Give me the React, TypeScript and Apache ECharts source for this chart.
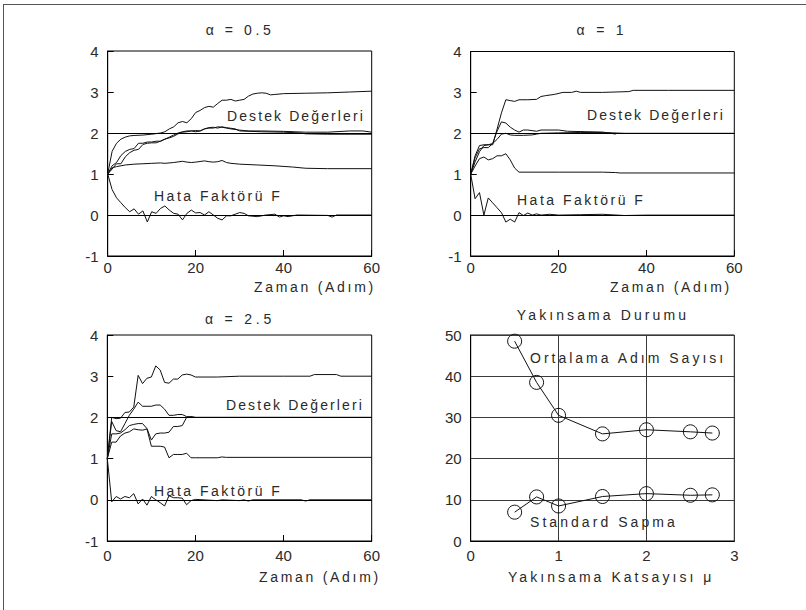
import React, { useEffect, useRef } from "react";
import * as echarts from "echarts";

// ---------- tick values ----------
const STEP_TICKS = [0, 20, 40, 60];
const SUPPORT_TICKS = [-1, 0, 1, 2, 3, 4];
const MU_TICKS = [0, 1, 2, 3];
const COUNT_TICKS = [0, 10, 20, 30, 40, 50];

// ---------- panel titles / labels ----------
const PANEL_TITLES = ["α = 0.5", "α = 1", "α = 2.5", "Yakınsama Durumu"];
const SUPPORT_LABEL = "Destek Değerleri";
const ERROR_LABEL = "Hata Faktörü F";
const TIME_LABEL = "Zaman (Adım)";
const MU_LABEL = "Yakınsama Katsayısı μ";
const AVG_LABEL = "Ortalama Adım Sayısı";
const STD_LABEL = "Standard Sapma";

// ---------- α = 0.5 ----------
const a05Support1 = [[0,1],[1,1.55],[2,1.75],[3,1.85],[4,1.9],[5,1.93],[6,1.94],[8,1.95],[10,1.97],[12,2.0],[13,2.03],[14,2.1],[15,2.15],[16,2.25],[17,2.28],[18,2.25],[19,2.35],[20,2.5],[21,2.55],[22,2.62],[23,2.65],[24,2.63],[25,2.72],[26,2.8],[27,2.8],[28,2.82],[29,2.78],[30,2.8],[31,2.82],[32,2.9],[33,2.95],[34,2.97],[35,2.98],[36,2.97],[37,2.93],[38,2.94],[40,2.96],[45,2.97],[50,2.98],[55,3.0],[60,3.02]];
const a05Support2 = [[0,1],[1,1.2],[2,1.28],[3,1.45],[4,1.55],[5,1.6],[6,1.62],[7,1.75],[8,1.75],[9,1.78],[10,1.78],[11,1.8],[12,1.8],[13,1.85],[14,1.9],[15,1.95],[16,2.0],[17,2.03],[18,2.05],[19,2.05],[20,2.06],[21,2.05],[22,2.1],[23,2.12],[24,2.12],[25,2.15],[26,2.14],[27,2.12],[28,2.1],[30,2.07],[32,2.05],[35,2.05],[40,2.04],[45,2.02],[50,2.02],[55,2.05],[58,2.05],[60,2.02]];
const a05Support3 = [[0,1],[1,1.12],[2,1.25],[3,1.25],[4,1.42],[5,1.52],[6,1.58],[7,1.6],[8,1.72],[9,1.75],[10,1.76],[11,1.76],[12,1.8],[13,1.85],[14,1.88],[15,1.92],[16,1.98],[17,2.02],[18,2.03],[19,2.05],[20,2.03],[21,2.05],[22,2.1],[23,2.13],[24,2.14],[25,2.12],[26,2.15],[27,2.13],[29,2.1],[30,2.05],[35,2.03],[40,2.02],[44,2.0],[45,1.98],[50,1.97],[60,1.97]];
const a05Support4 = [[0,1],[1,1.15],[2,1.18],[3,1.2],[4,1.22],[6,1.24],[8,1.25],[10,1.26],[12,1.27],[13,1.26],[15,1.28],[17,1.31],[18,1.29],[19,1.28],[20,1.29],[22,1.32],[23,1.3],[24,1.29],[25,1.3],[26,1.33],[27,1.28],[28,1.26],[30,1.24],[34,1.22],[38,1.2],[42,1.17],[45,1.14],[50,1.13],[60,1.13]];
const a05Error = [[0,1],[1,0.62],[2,0.42],[3,0.3],[4,0.18],[5,0.08],[6,0.15],[7,0.02],[8,0.1],[9,-0.17],[10,0.08],[11,0.04],[12,0.16],[13,0.22],[14,0.12],[15,0.04],[16,0.02],[17,-0.12],[18,0.04],[19,0.12],[20,0.05],[21,0.06],[22,0.0],[23,0.08],[24,0.0],[25,-0.08],[26,-0.12],[27,-0.02],[28,-0.02],[29,0.02],[30,0.06],[31,0.04],[32,-0.02],[34,-0.04],[36,0.0],[38,0.02],[39,-0.05],[40,-0.02],[41,-0.04],[43,0.0],[50,-0.01],[51,-0.05],[52,0.0],[60,0.0]];

// ---------- α = 1 ----------
const a1Support1 = [[0,1],[1,1.3],[2,1.55],[3,1.7],[4,1.72],[5,1.72],[6,2.1],[7,2.5],[8,2.82],[9,2.8],[10,2.78],[11,2.82],[13,2.82],[15,2.83],[16,2.9],[17,2.92],[19,2.95],[21,3.0],[23,3.0],[24,3.03],[25,3.0],[30,3.0],[36,3.02],[37,3.05],[45,3.05],[60,3.05]];
const a1Support2 = [[0,1],[1,1.4],[2,1.62],[3,1.65],[4,1.65],[5,1.75],[6,2.05],[7,2.28],[8,2.25],[9,2.15],[10,2.08],[11,2.03],[12,2.08],[13,2.08],[15,2.05],[16,2.08],[20,2.08],[22,2.05],[26,2.04],[30,2.03],[32,2.0],[33,1.98]];
const a1Support3 = [[0,1],[1,1.45],[2,1.7],[3,1.72],[4,1.72],[5,1.75],[6,1.85],[7,1.98],[8,2.0],[9,1.96],[10,1.95],[12,1.95],[14,1.96],[15,1.98],[16,2.0],[20,2.01],[25,2.02],[30,2.02],[35,2.0],[60,2.0]];
const a1Support4 = [[0,1],[1,1.2],[2,1.38],[3,1.42],[4,1.35],[5,1.38],[6,1.45],[7,1.45],[8,1.5],[9,1.35],[10,1.15],[11,1.05],[20,1.05],[30,1.05],[33,1.04],[34,1.03],[60,1.03]];
const a1Error = [[0,1],[1,0.4],[2,0.55],[3,0.0],[4,0.42],[5,0.3],[6,0.18],[7,0.06],[8,-0.17],[9,-0.1],[10,-0.17],[11,0.06],[12,-0.01],[13,0.05],[14,0.0],[15,0.03],[16,0.0],[18,0.02],[20,0.0],[25,0.01],[30,0.02],[35,-0.01],[40,0.0],[60,0.0]];

// ---------- α = 2.5 ----------
const a25Support1 = [[0,1],[1,2.0],[2,1.97],[3,1.98],[4,2.12],[5,2.13],[6,2.25],[7,3.02],[8,2.82],[9,2.95],[10,2.98],[11,3.25],[12,3.15],[13,2.85],[14,2.83],[15,2.93],[16,2.93],[17,3.03],[18,3.05],[19,3.03],[20,2.98],[25,2.98],[30,3.0],[40,3.0],[46,3.0],[47,3.04],[52,3.04],[53,3.0],[60,3.0]];
const a25Support2 = [[0,1],[1,1.9],[2,1.68],[3,1.65],[4,1.85],[5,2.05],[6,2.2],[7,2.37],[8,2.27],[9,2.27],[10,2.27],[11,2.3],[12,2.3],[13,2.2],[14,2.05],[15,2.05],[16,2.07],[17,2.07],[18,2.02],[20,2.0],[60,2.0]];
const a25Support3 = [[0,1],[1,1.6],[2,1.6],[3,1.62],[4,1.7],[5,1.8],[6,1.83],[7,1.85],[8,1.85],[9,1.73],[10,1.45],[11,1.6],[12,1.62],[13,1.62],[14,1.64],[15,1.78],[16,1.78],[17,1.8],[18,2.0],[19,2.02],[20,2.0],[60,2.0]];
const a25Support4 = [[0,1],[1,1.4],[2,1.4],[3,1.55],[4,1.62],[5,1.65],[6,1.72],[7,1.7],[8,1.69],[9,1.72],[10,1.3],[11,1.3],[12,1.3],[13,1.28],[14,1.02],[15,1.1],[16,1.1],[17,1.1],[18,1.13],[19,1.02],[20,1.02],[25,1.02],[26,1.04],[27,1.03],[60,1.03]];
const a25Error = [[0,1],[1,-0.05],[2,0.08],[3,0.02],[4,0.08],[5,0.05],[6,0.15],[7,-0.1],[8,0.02],[9,-0.13],[10,0.08],[11,0.0],[12,-0.07],[13,-0.15],[14,0.1],[15,0.05],[16,0.05],[17,0.04],[18,-0.12],[19,-0.02],[20,0.01],[25,-0.02],[26,0.0],[30,-0.02],[31,0.0],[32,-0.03],[33,0.0],[44,0.0],[45,-0.03],[46,0.0],[60,0.0]];

// ---------- convergence panel ----------
const MU_VALUES = [0.5, 0.75, 1.0, 1.5, 2.0, 2.5, 2.75];
const AVG_STEPS = [48.5, 38.5, 30.5, 26, 27, 26.5, 26.2];
const STD_DEV = [7, 10.7, 8.5, 10.8, 11.5, 11.1, 11.2];

const PANEL_SUPPORTS = [
  [a05Support1, a05Support2, a05Support3, a05Support4],
  [a1Support1, a1Support2, a1Support3, a1Support4],
  [a25Support1, a25Support2, a25Support3, a25Support4],
];
const PANEL_ERRORS = [a05Error, a1Error, a25Error];

const FONT = '"Liberation Sans", Arial, sans-serif';
const TEXT_COLOR = "#2a2a2a";
const LINE_COLOR = "#111";

const SPACING: Record<string, number> = {
  "α = 0.5": 3.6,
  "α = 1": 3.8,
  "α = 2.5": 3.8,
  "Yakınsama Durumu": 3.1,
  "Destek Değerleri": 2.1,
  "Hata Faktörü F": 2.5,
  "Zaman (Adım)": 2.7,
  "Yakınsama Katsayısı μ": 3.05,
  "Ortalama Adım Sayısı": 3.0,
  "Standard Sapma": 3.05,
};

const GRIDS = [
  { left: 107.7, top: 51, width: 264, height: 205 },
  { left: 470.7, top: 51.5, width: 263.6, height: 204.5 },
  { left: 107.3, top: 335, width: 264.4, height: 206 },
  { left: 470.7, top: 335, width: 263.6, height: 206 },
];

function txt(text: string, x: number, y: number, align: string = "left") {
  return {
    type: "text",
    x,
    y,
    silent: true,
    style: {
      text,
      font: `14px ${FONT}`,
      fill: TEXT_COLOR,
      align,
      verticalAlign: "middle",
    },
  };
}

function axisCommon(margin: number) {
  return {
    axisLine: { show: true, onZero: false, lineStyle: { color: "#000", width: 1 } },
    axisLabel: { color: TEXT_COLOR, fontSize: 15, fontFamily: FONT, margin },
  };
}

export default function App() {
  const ref = useRef<HTMLDivElement>(null);

  useEffect(() => {
    if (!ref.current) return;
    const el = ref.current;
    const chart = echarts.init(el, undefined, { renderer: "svg" });

    const xAxes: any[] = [];
    const yAxes: any[] = [];
    for (let i = 0; i < 3; i++) {
      xAxes.push({
        type: "value",
        gridIndex: i,
        min: STEP_TICKS[0],
        max: STEP_TICKS[STEP_TICKS.length - 1],
        interval: STEP_TICKS[1] - STEP_TICKS[0],
        ...axisCommon(i < 2 ? 4 : 7),
        axisTick: { show: true, inside: true, length: 6, lineStyle: { color: "#000" } },
        splitLine: { show: false },
      });
      yAxes.push({
        type: "value",
        gridIndex: i,
        min: SUPPORT_TICKS[0],
        max: SUPPORT_TICKS[SUPPORT_TICKS.length - 1],
        interval: SUPPORT_TICKS[1] - SUPPORT_TICKS[0],
        ...axisCommon(9),
        axisTick: { show: true, inside: true, length: 6, lineStyle: { color: "#000" } },
        splitLine: { show: false },
      });
    }
    xAxes.push({
      type: "value",
      gridIndex: 3,
      min: MU_TICKS[0],
      max: MU_TICKS[MU_TICKS.length - 1],
      interval: MU_TICKS[1] - MU_TICKS[0],
      ...axisCommon(7),
      axisTick: { show: false },
      splitLine: { show: true, lineStyle: { color: "#3a3a3a", width: 1 } },
    });
    yAxes.push({
      type: "value",
      gridIndex: 3,
      min: COUNT_TICKS[0],
      max: COUNT_TICKS[COUNT_TICKS.length - 1],
      interval: COUNT_TICKS[1] - COUNT_TICKS[0],
      ...axisCommon(9),
      axisTick: { show: false },
      splitLine: { show: true, lineStyle: { color: "#3a3a3a", width: 1 } },
    });

    const series: any[] = [];
    PANEL_SUPPORTS.forEach((curves, gi) => {
      curves.forEach((data) => {
        series.push({
          type: "line",
          xAxisIndex: gi,
          yAxisIndex: gi,
          data,
          symbol: "none",
          silent: true,
          lineStyle: { color: LINE_COLOR, width: 1 },
        });
      });
      series.push({
        type: "line",
        xAxisIndex: gi,
        yAxisIndex: gi,
        data: PANEL_ERRORS[gi],
        symbol: "none",
        silent: true,
        lineStyle: { color: LINE_COLOR, width: 1 },
        markLine: {
          silent: true,
          symbol: ["none", "none"],
          label: { show: false },
          lineStyle: { color: "#000", width: 1, type: "solid" },
          data: [{ yAxis: 2 }, { yAxis: 0 }],
        },
      });
    });
    [AVG_STEPS, STD_DEV].forEach((vals) => {
      series.push({
        type: "line",
        xAxisIndex: 3,
        yAxisIndex: 3,
        data: MU_VALUES.map((m, i) => [m, vals[i]]),
        symbol: "circle",
        symbolSize: 14,
        showSymbol: true,
        silent: true,
        lineStyle: { color: LINE_COLOR, width: 1 },
        itemStyle: { color: "rgba(0,0,0,0)", borderColor: LINE_COLOR, borderWidth: 1 },
      });
    });

    const graphics: any[] = [
      { type: "line", silent: true, shape: { x1: 3, y1: 4.5, x2: 806, y2: 4.5 }, style: { stroke: "#555", lineWidth: 1 } },
      { type: "line", silent: true, shape: { x1: 3.5, y1: 4.5, x2: 3.5, y2: 610 }, style: { stroke: "#555", lineWidth: 1 } },
      txt(PANEL_TITLES[0], 240, 30, "center"),
      txt(PANEL_TITLES[1], 602, 30, "center"),
      txt(PANEL_TITLES[2], 240, 319, "center"),
      txt(PANEL_TITLES[3], 603, 315, "center"),
      txt(SUPPORT_LABEL, 227, 116),
      txt(ERROR_LABEL, 154, 196),
      txt(SUPPORT_LABEL, 587, 115),
      txt(ERROR_LABEL, 517, 200),
      txt(SUPPORT_LABEL, 226, 405),
      txt(ERROR_LABEL, 154, 491),
      txt(AVG_LABEL, 530, 358),
      txt(STD_LABEL, 530, 522),
      txt(TIME_LABEL, 254, 287),
      txt(TIME_LABEL, 610, 287),
      txt(TIME_LABEL, 259, 577),
      txt(MU_LABEL, 508, 577),
    ];

    chart.setOption({
      animation: false,
      backgroundColor: "#fff",
      grid: GRIDS.map((g) => ({ ...g, show: true, borderColor: "#000", borderWidth: 1, backgroundColor: "transparent" })),
      xAxis: xAxes,
      yAxis: yAxes,
      series,
      graphic: graphics,
    });

    const applySpacing = () => {
      el.querySelectorAll("text").forEach((t) => {
        const s = SPACING[(t.textContent || "").trim()];
        if (s !== undefined) t.setAttribute("letter-spacing", String(s));
      });
    };
    applySpacing();
    chart.on("finished", applySpacing);
    const timer = setTimeout(applySpacing, 50);

    return () => {
      clearTimeout(timer);
      chart.dispose();
    };
  }, []);

  return (
    <div
      ref={ref}
      style={{ position: "fixed", left: 0, top: 0, width: 806, height: 610, background: "#fff" }}
    />
  );
}
